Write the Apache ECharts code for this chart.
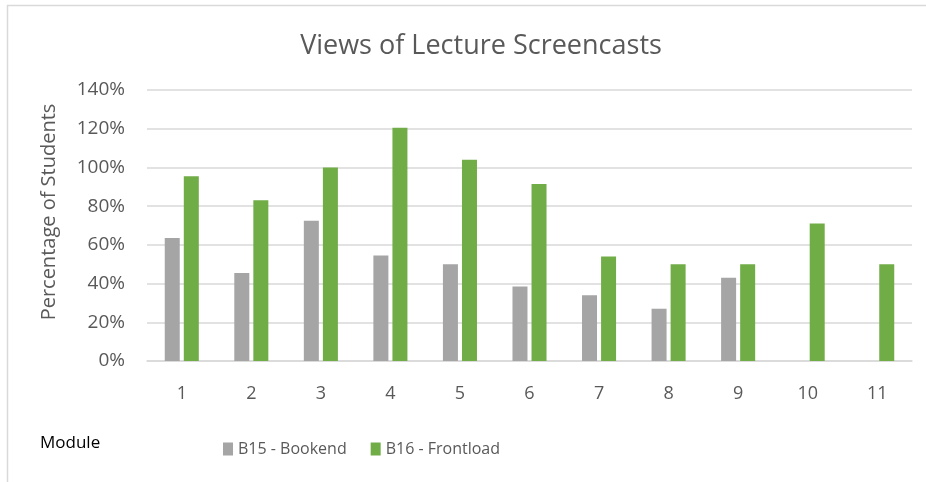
<!DOCTYPE html>
<html>
<head>
<meta charset="utf-8">
<script src="https://cdn.jsdelivr.net/npm/echarts@6/dist/echarts.min.js"></script>
<style>
  html, body { margin: 0; padding: 0; background: #fff; }
  #chart { width: 926px; height: 482px; }
</style>
</head>
<body>
<div id="chart"></div>
<script>
const modules = ['1', '2', '3', '4', '5', '6', '7', '8', '9', '10', '11']
const bookend = [63.5, 45.5, 72.5, 54.5, 50, 38.5, 34, 27, 43, null, null]
const frontload = [95.5, 83, 100, 120.5, 104, 91.5, 54, 50, 50, 71, 50]
const yTicks = [0, 140, 20] // min, max, step

const textColor = '#595959'
const font = '"Open Sans", sans-serif'

const chart = echarts.init(document.getElementById('chart'))
chart.setOption({
  animation: false,
  title: {
    text: 'Views of Lecture Screencasts',
    left: 476,
    top: 28,
    textAlign: 'center',
    textStyle: {
      color: textColor,
      fontFamily: font,
      fontSize: 27,
      fontWeight: 'normal'
    }
  },
  grid: {
    left: 147,
    right: 14,
    top: 90,
    bottom: 121
  },
  xAxis: {
    type: 'category',
    data: modules,
    axisLine: { lineStyle: { color: '#D9D9D9', width: 1.5 } },
    axisTick: { show: false },
    axisLabel: {
      color: textColor,
      fontFamily: font,
      fontSize: 18,
      margin: 24
    }
  },
  yAxis: {
    type: 'value',
    min: yTicks[0],
    max: yTicks[1],
    interval: yTicks[2],
    axisLine: { show: false },
    axisTick: { show: false },
    axisLabel: {
      formatter: '{value}%',
      color: textColor,
      fontFamily: font,
      fontSize: 19,
      margin: 22
    },
    splitLine: { lineStyle: { color: '#D9D9D9', width: 1.5 } }
  },
  legend: {
    left: 223,
    top: 441,
    padding: 0,
    itemWidth: 10,
    itemHeight: 13,
    itemGap: 24,
    icon: 'rect',
    textStyle: {
      color: textColor,
      fontFamily: font,
      fontSize: 16
    },
    data: ['B15 - Bookend', 'B16 - Frontload']
  },
  graphic: [
    {
      type: 'rect',
      shape: { x: 7.5, y: 5.5, width: 1000, height: 1000 },
      style: { fill: 'none', stroke: '#D9D9D9', lineWidth: 1.5 },
      silent: true
    },
    {
      type: 'text',
      x: 49,
      y: 212,
      rotation: Math.PI / 2,
      style: {
        text: 'Percentage of Students',
        fill: textColor,
        font: '20px ' + font,
        align: 'center',
        verticalAlign: 'middle'
      }
    },
    {
      type: 'text',
      x: 40,
      y: 443,
      style: {
        text: 'Module',
        fill: '#000',
        font: '17px ' + font,
        align: 'left',
        verticalAlign: 'middle'
      }
    }
  ],
  series: [
    {
      name: 'B15 - Bookend',
      type: 'bar',
      data: bookend,
      barWidth: 15,
      barGap: '27%',
      itemStyle: { color: '#A5A5A5' }
    },
    {
      name: 'B16 - Frontload',
      type: 'bar',
      data: frontload,
      barWidth: 15,
      itemStyle: { color: '#70AD47' }
    }
  ]
})
</script>
</body>
</html>
